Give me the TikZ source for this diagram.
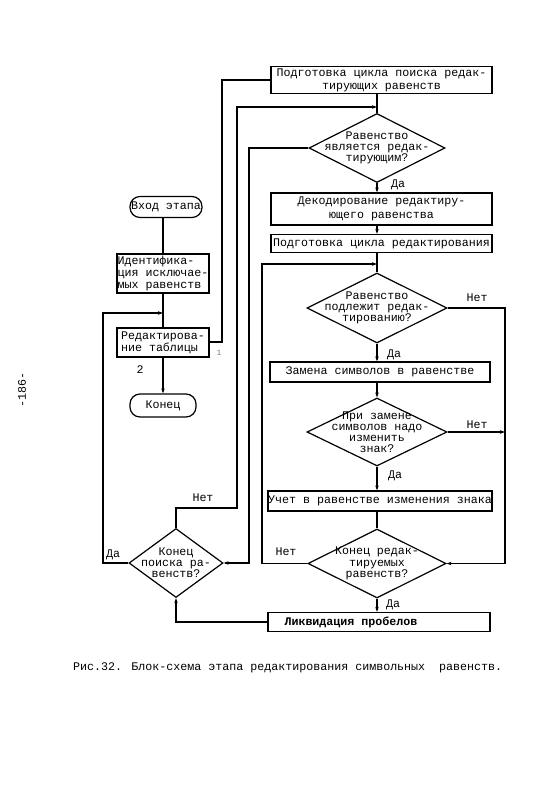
\documentclass[tikz,border=0pt]{standalone}
\usepackage{fontspec}
\setmainfont{Liberation Mono}
\usetikzlibrary{shapes.geometric,arrows.meta}
\begin{document}
\begin{tikzpicture}[x=1bp,y=-1bp,
  every node/.style={font=\fontsize{11.7}{12.3}\selectfont},
  ln/.style={line width=1.2bp},
  arr/.style={line width=1.2bp,-{Stealth[length=5bp,width=3.5bp]}},
  proc/.style={draw,line width=1.2bp,rectangle,inner sep=1bp,align=center},
  term/.style={draw,line width=1.2bp,rectangle,rounded corners=10bp,inner sep=0pt},
  decide/.style={draw,line width=1.2bp,diamond,inner sep=0pt,aspect=2},
  dtext/.style={align=center,font=\fontsize{11.7}{11.2}\selectfont},
  tag/.style={inner sep=1bp}]
\useasboundingbox (0,0) rectangle (544,800);

% left column
\node[term,minimum width=72bp,minimum height=21bp] (vhod) at (166,207) {Вход этапа};
\node[proc,align=left,inner sep=0.5bp,minimum width=92bp,minimum height=39bp] (ident) at (163,273.5) {Идентифика-\\ция исключае-\\мых равенств};
\node[proc,align=left,inner sep=0.5bp,minimum width=92bp,minimum height=29bp] (red) at (163,342.5) {Редактирова-\\ние таблицы};
\node[term,minimum width=66bp,minimum height=23bp] (konec) at (163,405.5) {Конец};
\node[decide,minimum width=94bp,minimum height=69bp,
  label={[dtext]center:{Конец\\поиска ра-\\венств?}}] (kp) at (176,563) {};

% right column
\node[proc,inner sep=0pt,minimum width=221bp,minimum height=27bp,font=\fontsize{11.7}{13}\selectfont] (top) at (381.5,80) {Подготовка цикла поиска редак-\\тирующих равенств};
\node[decide,minimum width=136bp,minimum height=69bp,
  label={[dtext]center:{Равенство\\является редак-\\тирующим?}}] (d1) at (377,148) {};
\node[proc,minimum width=221bp,minimum height=32bp,font=\fontsize{11.7}{13.5}\selectfont] (deco) at (381.5,209) {Декодирование редактиру-\\ющего равенства};
\node[proc,inner sep=0pt,minimum width=221bp,minimum height=18bp] (prep) at (381.5,243.5) {Подготовка цикла редактирования};
\node[decide,minimum width=140bp,minimum height=70bp,
  label={[dtext]center:{Равенство\\подлежит редак-\\тированию?}}] (d2) at (377,308) {};
\node[proc,minimum width=220bp,minimum height=20bp] (zam) at (380,372) {Замена символов в равенстве};
\node[decide,minimum width=140bp,minimum height=68bp,
  label={[dtext]center:{При замене\\символов  надо\\изменить\\знак?}}] (d3) at (377,432) {};
\node[proc,inner sep=0pt,minimum width=223bp,minimum height=20bp] (uch) at (380,501) {Учет в равенстве изменения знака};
\node[decide,minimum width=138bp,minimum height=69bp,
  label={[dtext]center:{Конец редак-\\тируемых\\равенств?}}] (d4) at (377,563.5) {};
\node[proc,minimum width=222bp,minimum height=19bp] (lik) at (379,622) {};
\node[anchor=west,font=\fontsize{11.7}{12}\bfseries] (likt) at (281,622) {Ликвидация пробелов};

% junction coordinates
\coordinate (jA) at (163,313);
\coordinate (jB) at (377,107);
\coordinate (jC) at (377,264);

% left column connectors
\draw[ln] (vhod.south -| 163,0) -- (ident.north);
\draw[ln] (ident.south) -- (red.north);
\draw[arr] (red.south) -- (konec.north);
\draw[arr] (kp.west) -- (103,563) -- (103,313) -- (jA);
\draw[ln] (red.east |- 0,342) -- (222,342) -- (222,80) -- (top.west);

% right column connectors
\draw[ln] (top.south -| 377,0) -- (d1.north);
\draw[arr] (kp.north) -- (176,508) -- (237,508) -- (237,107) -- (jB);
\draw[arr] (d1.west) -- (249,148) -- (249,563) -- (kp.east);
\draw[arr] (d1.south) -- (deco.north -| 377,0);
\draw[arr] (deco.south -| 377,0) -- (prep.north -| 377,0);
\draw[ln] (prep.south -| 377,0) -- (d2.north);
\draw[arr] (d4.west) -- (262,563.5) -- (262,264) -- (jC);
\draw[arr] (d2.east) -- (505,308) -- (505,563.5) -- (d4.east);
\draw[arr] (d2.south) -- (zam.north -| 377,0);
\draw[arr] (zam.south -| 377,0) -- (d3.north);
\draw[arr] (d3.east) -- (505,432);
\draw[arr] (d3.south) -- (uch.north -| 377,0);
\draw[ln] (uch.south -| 377,0) -- (d4.north);
\draw[arr] (d4.south) -- (lik.north -| 377,0);
\draw[arr] (lik.west) -- (176,622) -- (kp.south);

% labels
\node[tag] (l1) at (398,185) {Да};
\node[tag] (l2) at (477,298) {Нет};
\node[tag] (l3) at (394,355) {Да};
\node[tag] (l4) at (477,425) {Нет};
\node[tag] (l5) at (395,476) {Да};
\node[tag] (l6) at (286,552) {Нет};
\node[tag] (l7) at (393,605) {Да};
\node[tag] (l8) at (203,498) {Нет};
\node[tag] (l9) at (113,555) {Да};
\node[tag] (l10) at (140,370) {2};
\node[tag,font=\fontsize{8}{8}\selectfont,text=gray] (l11) at (219,353) {1};

% caption and page number
\node[anchor=west,inner sep=0pt] (cap) at (73,668) {Рис.32. Блок-схема этапа редактирования символьных\ \ равенств.};
\node[rotate=90] (pg) at (22,390) {-186-};
\end{tikzpicture}
\end{document}
